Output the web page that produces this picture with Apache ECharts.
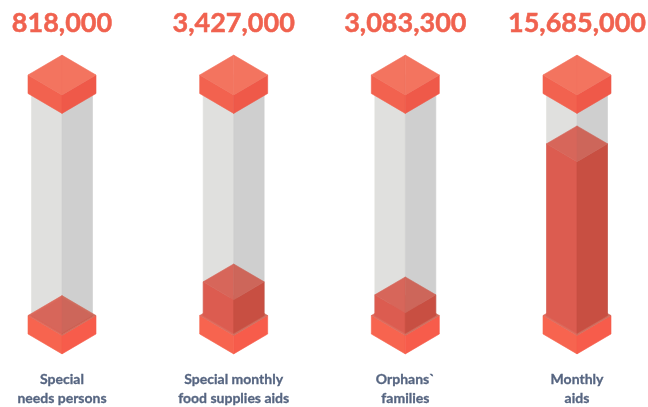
<!DOCTYPE html>
<html>
<head>
    <meta charset="utf-8">
    <title>Aid columns</title>
    <script type="text/javascript" src="https://cdn.jsdelivr.net/npm/echarts@6/dist/echarts.min.js"></script>
    <style>
        *{
            margin:0;
            padding:0;
        }
        body{
            background:#fff;
        }
        #main{
            width:648px;
            height:407px;
            filter:blur(0.7px);
        }
    </style>
</head>
<body>
<div id="main"></div>
<script type="text/javascript">
    var categories = ['Special\nneeds persons', 'Special monthly\nfood supplies aids', 'Orphans`\nfamilies', 'Monthly\naids'];
    var totals = [818000, 3427000, 3083300, 15685000];
    // how far the red fill rises in the tube (% of tube height)
    var fillLevels = [0, 14, 8.6, 71.4];

    var TUBE_TOP = 100;
    var CAP_HALF = 34, TUBE_HALF = 30.5, ISO = 0.585, CAP_THICK = 18.5;

    function poly(points, color) {
        // same colour stroke so the faces close up with no seams
        return {type: 'polygon', shape: {points: points}, style: {fill: color, stroke: color, lineWidth: 0.6}, silent: true};
    }

    // a flat isometric box: top face centred on (x, y), dropping by thick
    function box(x, y, half, thick, topLeft, topRight, left, right) {
        var h = half * ISO;
        return [
            poly([[x - half, y], [x, y + h], [x, y + h + thick], [x - half, y + thick]], left),
            poly([[x + half, y], [x, y + h], [x, y + h + thick], [x + half, y + thick]], right),
            poly([[x - half, y], [x, y - h], [x, y + h]], topLeft),
            poly([[x + half, y], [x, y - h], [x, y + h]], topRight)
        ];
    }

    function renderColumn(params, api) {
        var i = api.value(0);
        var bottom = api.coord([i, 0]);
        var top = api.coord([i, TUBE_TOP]);
        var fill = api.coord([i, api.value(1)]);
        var x = bottom[0];
        var h = TUBE_HALF * ISO;
        var kids = [];

        // grey tube
        kids.push(poly([[x - TUBE_HALF, top[1]], [x, top[1]], [x, bottom[1] + h], [x - TUBE_HALF, bottom[1]]], '#e0e0de'));
        kids.push(poly([[x + TUBE_HALF, top[1]], [x, top[1]], [x, bottom[1] + h], [x + TUBE_HALF, bottom[1]]], '#cfcfcf'));

        // base, its top face seen through the fill
        kids = kids.concat(box(x, bottom[1], CAP_HALF, CAP_THICK, '#dc6a5c', '#cf6c5d', '#f7644f', '#f75c4b'));

        // red fill
        kids = kids.concat(box(x, fill[1], TUBE_HALF, bottom[1] - fill[1], '#d7665a', '#cd665a', '#dc5c50', '#c84f42'));

        // top cap
        kids = kids.concat(box(x, top[1], CAP_HALF, CAP_THICK, '#f3745f', '#f3745f', '#f2624f', '#ef5949'));

        kids.push({
            type: 'text',
            silent: true,
            style: {
                x: x,
                y: top[1] - 52,
                text: totals[i].toLocaleString('en-US'),
                fill: '#f0624f',
                stroke: '#f0624f',
                lineWidth: 0.5,
                font: 'bold 27px Lato',
                align: 'center',
                verticalAlign: 'middle'
            }
        });

        return {type: 'group', children: kids};
    }

    var myChart = echarts.init(document.getElementById('main'));
    myChart.setOption({
        animation: false,
        backgroundColor: '#fff',
        grid: {left: 62, right: 71, top: 75, bottom: 91.5, outerBoundsMode: 'none'},
        xAxis: {
            type: 'category',
            data: categories,
            boundaryGap: false,
            axisLine: {show: false},
            axisTick: {show: false},
            axisLabel: {
                interval: 0,
                margin: 54,
                color: '#566581',
                textBorderColor: '#566581',
                textBorderWidth: 0.3,
                fontFamily: 'Lato',
                fontWeight: 'bold',
                fontSize: 14,
                lineHeight: 19
            }
        },
        yAxis: {type: 'value', min: 0, max: TUBE_TOP, show: false},
        series: [{
            type: 'custom',
            clip: false,
            renderItem: renderColumn,
            data: fillLevels.map(function (v, i) { return [i, v]; }),
            encode: {x: 0, y: 1}
        }]
    });
</script>
</body>
</html>
